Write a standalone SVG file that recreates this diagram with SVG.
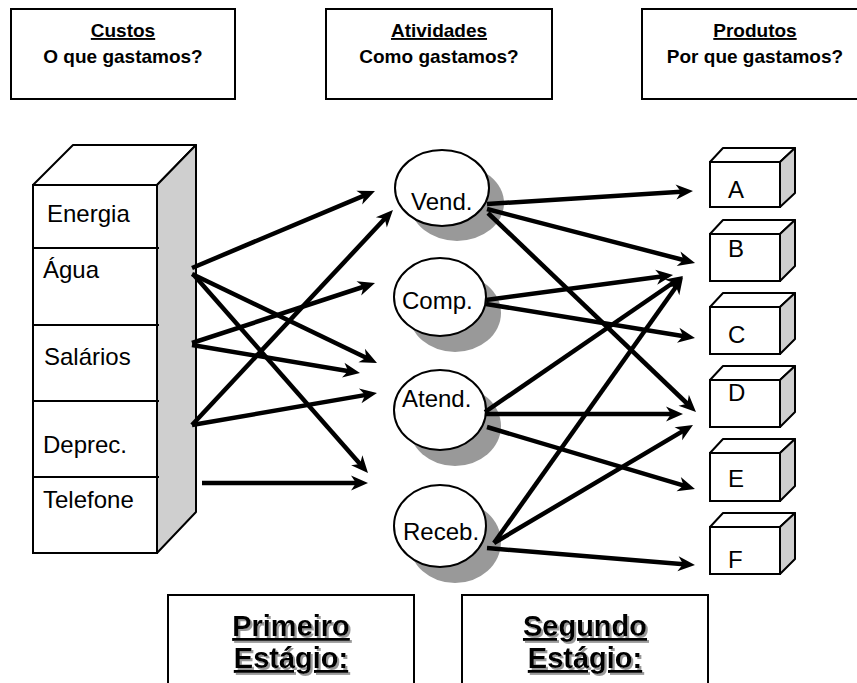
<svg xmlns="http://www.w3.org/2000/svg" width="857" height="683" viewBox="0 0 857 683">
<defs>
<style>
.box{fill:#fff;stroke:#000;stroke-width:2}
.side{fill:#cfcfcf;stroke:#000;stroke-width:2;stroke-linejoin:round}
.top{fill:#fff;stroke:#000;stroke-width:2;stroke-linejoin:round}
.div{stroke:#000;stroke-width:2}
.ell{fill:#fff;stroke:#000;stroke-width:2}
.shadow{fill:#999}
.t{font-family:"Liberation Sans",Arial,sans-serif;font-size:24px;fill:#000}
.h{font-family:"Liberation Sans",Arial,sans-serif;font-size:19px;font-weight:bold;fill:#000;text-anchor:middle}
.b{font-family:"Liberation Sans",Arial,sans-serif;font-size:29px;font-weight:bold;text-anchor:middle;text-decoration:underline;fill:#000;filter:url(#ts)}
.arr line{stroke:#000;stroke-width:4.5;marker-end:url(#ah)}
</style>
<filter id="ts" x="-10%" y="-30%" width="130%" height="170%">
<feFlood flood-color="#999" result="g"/>
<feComposite in="g" in2="SourceAlpha" operator="in" result="sh"/>
<feOffset in="sh" dx="2" dy="2" result="off"/>
<feMerge><feMergeNode in="off"/><feMergeNode in="SourceGraphic"/></feMerge>
</filter>
<marker id="ah" markerUnits="userSpaceOnUse" markerWidth="30" markerHeight="30" viewBox="-15 -15 30 30" refX="0" refY="0" orient="auto" overflow="visible">
<path d="M8,0 L-9,-7.5 L-4,0 L-9,7.5 Z" fill="#000"/>
</marker>
</defs>
<rect width="857" height="683" fill="#fff"/>

<g id="hdr-custos">
<rect class="box" x="11" y="9" width="224" height="90"/>
<text class="h" x="123" y="37" text-decoration="underline">Custos</text>
<text class="h" x="123" y="63">O que gastamos?</text>
</g>
<g id="hdr-atividades">
<rect class="box" x="326" y="9" width="226" height="90"/>
<text class="h" x="439" y="37" text-decoration="underline">Atividades</text>
<text class="h" x="439" y="63">Como gastamos?</text>
</g>
<g id="hdr-produtos">
<rect class="box" x="642" y="9" width="225" height="90"/>
<text class="h" x="755" y="37" text-decoration="underline">Produtos</text>
<text class="h" x="755" y="63">Por que gastamos?</text>
</g>

<g id="custos">
<polygon class="top" points="33,185 73,145 196,145 157,185"/>
<polygon class="side" points="157,185 196,145 196,512 157,553"/>
<rect class="box" x="33" y="185" width="124" height="368"/>
<line class="div" x1="33" y1="248" x2="159" y2="248"/>
<line class="div" x1="33" y1="325" x2="159" y2="325"/>
<line class="div" x1="33" y1="401" x2="159" y2="401"/>
<line class="div" x1="33" y1="477" x2="159" y2="477"/>
<text class="t" x="47" y="222">Energia</text>
<text class="t" x="43" y="278">Água</text>
<text class="t" x="44" y="365">Salários</text>
<text class="t" x="43" y="453">Deprec.</text>
<text class="t" x="43" y="508">Telefone</text>
</g>

<g id="vend">
<ellipse class="shadow" cx="457" cy="203" rx="47" ry="38"/>
<ellipse class="ell" cx="442" cy="188" rx="47" ry="38"/>
<text class="t" x="411" y="210">Vend.</text>
</g>
<g id="comp">
<ellipse class="shadow" cx="455" cy="313" rx="46" ry="39"/>
<ellipse class="ell" cx="440" cy="297" rx="46" ry="39"/>
<text class="t" x="402" y="309">Comp.</text>
</g>
<g id="atend">
<ellipse class="shadow" cx="455" cy="426" rx="46" ry="40"/>
<ellipse class="ell" cx="440" cy="410" rx="46" ry="40"/>
<text class="t" x="402" y="407">Atend.</text>
</g>
<g id="receb">
<ellipse class="shadow" cx="455" cy="542" rx="46" ry="41"/>
<ellipse class="ell" cx="440" cy="526" rx="46" ry="41"/>
<text class="t" x="403" y="540">Receb.</text>
</g>

<g id="prod-a">
<polygon class="top" points="710,162 723,148 795,148 780,162"/>
<polygon class="side" points="780,162 795,148 795,193 780,207"/>
<rect class="box" x="710" y="162" width="70" height="45"/>
<text class="t" x="728" y="198">A</text>
</g>
<g id="prod-b">
<polygon class="top" points="710,234 723,220 795,220 780,234"/>
<polygon class="side" points="780,234 795,220 795,266 780,281"/>
<rect class="box" x="710" y="234" width="70" height="47"/>
<text class="t" x="728" y="257">B</text>
</g>
<g id="prod-c">
<polygon class="top" points="710,307 723,293 795,293 780,307"/>
<polygon class="side" points="780,307 795,293 795,339 780,354"/>
<rect class="box" x="710" y="307" width="70" height="47"/>
<text class="t" x="728" y="343">C</text>
</g>
<g id="prod-d">
<polygon class="top" points="710,380 723,366 795,366 780,380"/>
<polygon class="side" points="780,380 795,366 795,412 780,427"/>
<rect class="box" x="710" y="380" width="70" height="47"/>
<text class="t" x="728" y="401">D</text>
</g>
<g id="prod-e">
<polygon class="top" points="710,453 723,439 795,439 780,453"/>
<polygon class="side" points="780,453 795,439 795,486 780,501"/>
<rect class="box" x="710" y="453" width="70" height="48"/>
<text class="t" x="728" y="487">E</text>
</g>
<g id="prod-f">
<polygon class="top" points="710,527 723,513 795,513 780,527"/>
<polygon class="side" points="780,527 795,513 795,559 780,574"/>
<rect class="box" x="710" y="527" width="70" height="47"/>
<text class="t" x="728" y="568">F</text>
</g>

<g id="connectors" class="arr">
<line x1="192" y1="268" x2="367.6" y2="194.1"/>
<line x1="192" y1="274" x2="369.8" y2="359.5"/>
<line x1="193" y1="274" x2="362.7" y2="467"/>
<line x1="192" y1="343" x2="367.4" y2="285.5"/>
<line x1="192" y1="345" x2="352.1" y2="371.7"/>
<line x1="192" y1="425" x2="387.5" y2="215.8"/>
<line x1="192" y1="425" x2="369.1" y2="394.4"/>
<line x1="202" y1="483" x2="360" y2="483"/>
<line x1="487" y1="204" x2="685" y2="191.5"/>
<line x1="487" y1="209" x2="687.3" y2="261"/>
<line x1="488" y1="213" x2="690.2" y2="406.5"/>
<line x1="486" y1="300" x2="665.1" y2="276.1"/>
<line x1="486" y1="304" x2="687.1" y2="336.7"/>
<line x1="485" y1="412" x2="676.4" y2="280.5"/>
<line x1="486" y1="414" x2="675" y2="414"/>
<line x1="487" y1="427" x2="687.3" y2="486.7"/>
<line x1="494" y1="543" x2="678.4" y2="283.5"/>
<line x1="494" y1="543" x2="686.1" y2="429.1"/>
<line x1="487" y1="548" x2="687" y2="564.4"/>
</g>

<g id="primeiro">
<rect class="box" x="168" y="595" width="246" height="110"/>
<text class="b" x="291" y="636">Primeiro</text>
<text class="b" x="291" y="668">Estágio:</text>
</g>
<g id="segundo">
<rect class="box" x="462" y="595" width="246" height="110"/>
<text class="b" x="585" y="636">Segundo</text>
<text class="b" x="585" y="668">Estágio:</text>
</g>
</svg>
